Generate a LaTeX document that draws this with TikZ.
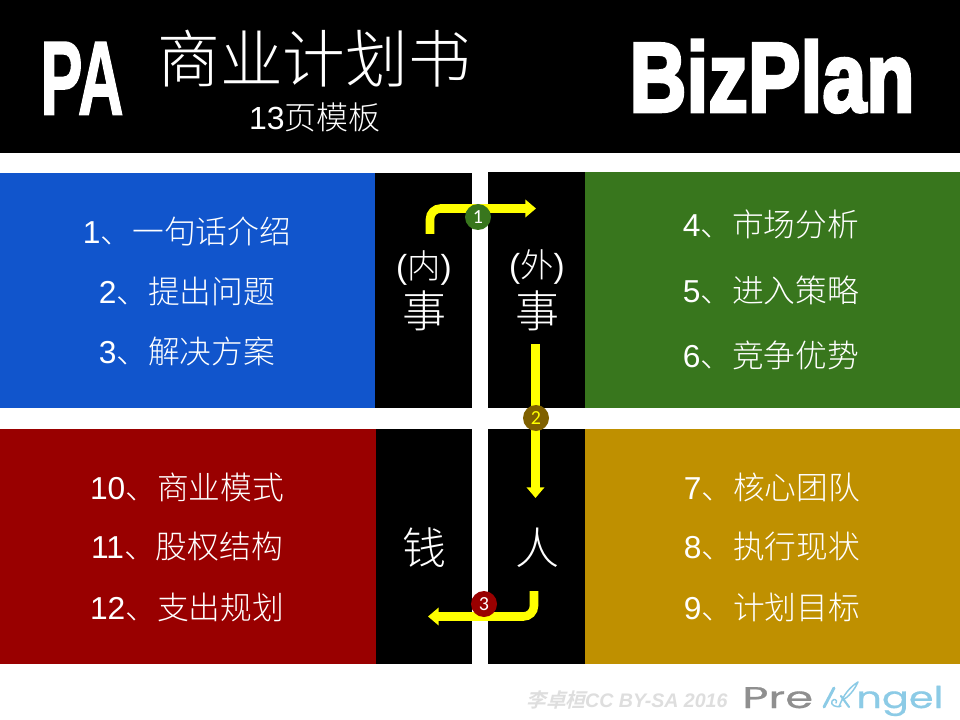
\documentclass[tikz,border=0pt]{standalone}
\usepackage{fontspec}
\usetikzlibrary{arrows.meta}
\setmainfont{Liberation Sans}
\newfontfamily\cjk{Noto Sans CJK SC Light}
\newfontfamily\logofont{Poppins}
\newfontfamily\badgefont{Carlito}
\newcommand{\zh}[1]{{\cjk #1}}
\definecolor{pblue}{HTML}{1155CC}
\definecolor{pgreen}{HTML}{38761D}
\definecolor{pred}{HTML}{990000}
\definecolor{pgold}{HTML}{BF9000}
\definecolor{pbrown}{HTML}{7F6000}
\definecolor{arrowyellow}{HTML}{FFFF00}
\definecolor{logoblue}{HTML}{8CCBE6}
\definecolor{logogrey}{HTML}{8F8F8F}
\tikzset{
  panel/.style={fill=#1,draw=none,inner sep=0pt,outer sep=0pt,anchor=north west},
  lbl/.style={text=white,font=\fontsize{23.8}{26}\selectfont,inner sep=0pt,anchor=mid},
  bigch/.style={text=white,font=\cjk\fontsize{33}{36}\selectfont,inner sep=0pt,anchor=mid},
  paren/.style={text=white,font=\fontsize{25}{27}\selectfont,inner sep=0pt,anchor=mid},
  flow/.style={draw=arrowyellow,line width=6.4pt,rounded corners=8pt,-{Triangle[length=8pt,width=13pt]}},
  badge/.style={circle,fill=#1,draw=none,minimum size=19.5pt,inner sep=0pt,text=white,font=\badgefont\fontsize{15}{16}\selectfont},
  logotext/.style={inner sep=0pt,anchor=base west,font=\logofont\fontsize{22.5}{24}\selectfont\addfontfeature{FakeBold=0.6}},
  wing/.style={draw=logoblue,line cap=round,line join=round},
}
\begin{document}
\begin{tikzpicture}[x=0.75pt,y=-0.75pt]
\useasboundingbox (0,0) rectangle (960,720);
\fill[white] (0,0) rectangle (960,720);
% panels
\node[panel=black,minimum width=720pt,minimum height=114.75pt] (header) at (0,0) {};
\node[panel=pblue,minimum width=281.25pt,minimum height=176.25pt] (blue) at (0,173) {};
\node[panel=black,minimum width=72.75pt,minimum height=176.25pt] (kin) at (375,173) {};
\node[panel=black,minimum width=72.75pt,minimum height=177pt] (kout) at (488,172) {};
\node[panel=pgreen,minimum width=281.25pt,minimum height=177pt] (green) at (585,172) {};
\node[panel=pred,minimum width=282pt,minimum height=176.25pt] (red) at (0,429) {};
\node[panel=black,minimum width=72pt,minimum height=176.25pt] (kmoney) at (376,429) {};
\node[panel=black,minimum width=72.75pt,minimum height=176.25pt] (kpeople) at (488,429) {};
\node[panel=pgold,minimum width=281.25pt,minimum height=176.25pt] (gold) at (585,429) {};
% header text
\node[text=white,inner sep=0pt,anchor=mid,font=\fontsize{79}{79}\bfseries\selectfont\addfontfeature{FakeBold=1.5},xscale=0.6] (pa) at (82,111) {PA};
\node[text=white,inner sep=0pt,anchor=mid,font=\cjk\fontsize{47}{50}\selectfont] (title) at (314,79) {商业计划书};
\node[text=white,inner sep=0pt,anchor=mid,font=\fontsize{24}{26}\selectfont] (sub) at (315,126) {13\zh{页模板}};
\node[text=white,inner sep=0pt,anchor=mid,font=\fontsize{74}{74}\bfseries\selectfont\addfontfeature{FakeBold=3.5},xscale=0.8] (biz) at (772,108) {BizPlan};
% lists
\node[lbl] (b1) at (187,240) {1\zh{、一句话介绍}};
\node[lbl] (b2) at (187,300) {2\zh{、提出问题}};
\node[lbl] (b3) at (187,360) {3\zh{、解决方案}};
\node[lbl] (g1) at (771,233) {4\zh{、市场分析}};
\node[lbl] (g2) at (771,299) {5\zh{、进入策略}};
\node[lbl] (g3) at (771,364) {6\zh{、竞争优势}};
\node[lbl] (r1) at (187,496) {10\zh{、商业模式}};
\node[lbl] (r2) at (187,555) {11\zh{、股权结构}};
\node[lbl] (r3) at (187,616) {12\zh{、支出规划}};
\node[lbl] (y1) at (772,496) {7\zh{、核心团队}};
\node[lbl] (y2) at (772,555) {8\zh{、执行现状}};
\node[lbl] (y3) at (772,616) {9\zh{、计划目标}};
% black columns
\node[paren] (pin) at (424,275) {(\zh{内})};
\node[paren] (pout) at (537,274) {(\zh{外})};
\node[bigch] (s1) at (424,324) {事};
\node[bigch] (s2) at (537,324) {事};
\node[bigch] (qian) at (424,561) {钱};
\node[bigch] (ren) at (537,561) {人};
% connectors
\coordinate (a1s) at (430,234);
\coordinate (a1c) at (430,208.5);
\coordinate (a1e) at (536,208.5);
\coordinate (a2s) at (535.5,344);
\coordinate (a2e) at (535.5,498);
\coordinate (a3s) at (534,591);
\coordinate (a3c) at (534,616.5);
\coordinate (a3e) at (428,616.5);
\draw[flow] (a1s) -- (a1c) -- (a1e);
\draw[flow,rounded corners=0pt] (a2s) -- (a2e);
\draw[flow] (a3s) -- (a3c) -- (a3e);
\node[badge=pgreen] (n1) at (478,217) {1};
\node[badge=pbrown,text=arrowyellow] (n2) at (536,418) {2};
\node[badge=pred] (n3) at (484,604) {3};
% footer
\node[text=black!13,inner sep=0pt,anchor=mid,font=\fontsize{14.7}{16}\bfseries\itshape\selectfont] (cc) at (627,704) {{\cjk\fontsize{14.7}{16}\selectfont\addfontfeature{FakeSlant=0.25}李卓桓}CC BY-SA 2016};
\node[logotext,text=logogrey,xscale=1.5] (logoa) at (742,708) {Pre};
\node[logotext,text=logoblue,xscale=1.33] (logoc) at (856,708) {ngel};
% stylised wing A of the logo
\draw[wing,line width=2.2pt] (824,707) -- (834,688);
\draw[wing,line width=1.6pt] (841,696) -- (849,707);
\draw[wing,line width=1.1pt] (839,707) .. controls (843,695) and (850,687) .. (858,682) .. controls (854,691) and (848,697) .. (843,700);
\draw[wing,line width=1.1pt] (841,706) .. controls (836,708) and (830,705) .. (832,701) .. controls (834,698) and (838,700) .. (836,703);
\end{tikzpicture}
\end{document}
